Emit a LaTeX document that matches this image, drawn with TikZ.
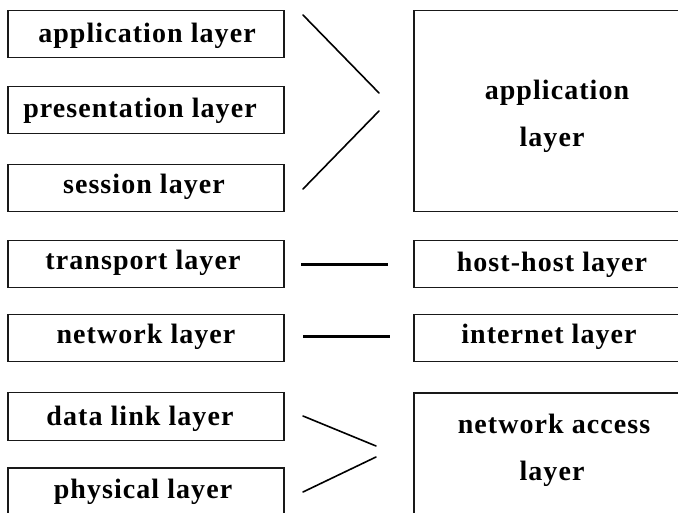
\documentclass[tikz,border=0pt]{standalone}
\usepackage{fontspec}
\setmainfont{Liberation Serif}[LetterSpace=3.8]
\begin{document}
\begin{tikzpicture}[x=1pt,y=-1pt,
  layerbox/.style={draw=black!90,line width=1.5pt,rectangle,inner sep=0pt,
    minimum width=276pt},
  lbl/.style={anchor=base,inner sep=0pt,font=\fontsize{28}{32}\selectfont\bfseries},
  link/.style={line width=1.6pt,line cap=round},
  thicklink/.style={line width=3pt}]
\useasboundingbox (0,0) rectangle (678,513);

% OSI stack (left)
\node[layerbox,minimum height=47pt] (app)  at (146,34)    {};
\node[layerbox,minimum height=47pt] (pres) at (146,110)   {};
\node[layerbox,minimum height=47pt] (sess) at (146,188)   {};
\node[layerbox,minimum height=47pt] (trn)  at (146,264)   {};
\node[layerbox,minimum height=47pt] (net)  at (146,338)   {};
\node[layerbox,minimum height=48pt] (dl)   at (146,416.5) {};
\node[layerbox,minimum height=48pt] (phy)  at (146,492)   {};

\node[lbl] (tapp)  at (147,43)  {application layer};
\node[lbl] (tpres) at (140,118) {presentation layer};
\node[lbl] (tsess) at (144,194) {session layer};
\node[lbl] (ttrn)  at (143,270) {transport layer};
\node[lbl] (tnet)  at (146,344) {network layer};
\node[lbl] (tdl)   at (140,425) {data link layer};
\node[lbl] (tphy)  at (143,498) {physical layer};

% TCP/IP stack (right)
\node[layerbox,minimum height=201pt] (rapp) at (552,111) {};
\node[layerbox,minimum height=47pt]  (host) at (552,264) {};
\node[layerbox,minimum height=47pt]  (inet) at (552,338) {};
\node[layerbox,minimum height=200pt] (nacc) at (552,493) {};

\node[lbl] (trapp1) at (557,100) {application};
\node[lbl] (trapp2) at (552,147) {layer};
\node[lbl] (thost)  at (552,272) {host-host layer};
\node[lbl] (tinet)  at (549,344) {internet layer};
\node[lbl] (tnacc1) at (554,433) {network access};
\node[lbl] (tnacc2) at (552,480) {layer};

% mapping strokes
\coordinate (a1) at (303,15);  \coordinate (a2) at (379,93);
\coordinate (a3) at (379,111); \coordinate (a4) at (303,189);
\coordinate (h1) at (301,265); \coordinate (h2) at (388,265);
\coordinate (i1) at (303,337); \coordinate (i2) at (390,337);
\coordinate (n1) at (303,416); \coordinate (n2) at (376,446);
\coordinate (n3) at (376,457); \coordinate (n4) at (303,492);

\draw[link] (a1) -- (a2);
\draw[link] (a3) -- (a4);
\draw[thicklink] (h1) -- (h2);
\draw[thicklink] (i1) -- (i2);
\draw[link] (n1) -- (n2);
\draw[link] (n3) -- (n4);
\end{tikzpicture}
\end{document}
